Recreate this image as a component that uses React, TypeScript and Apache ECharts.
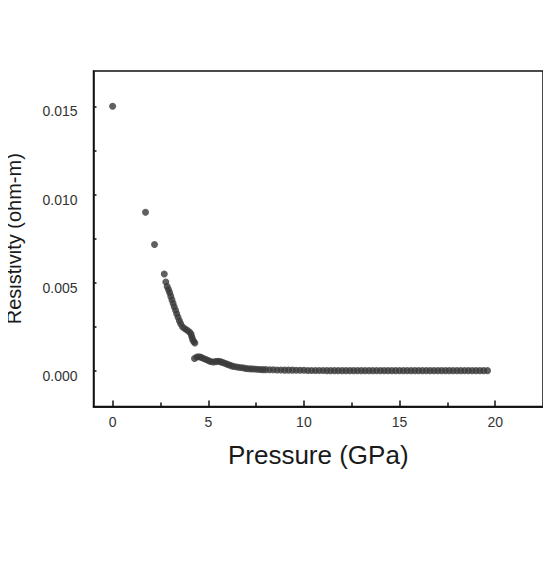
import React, { useEffect, useRef } from "react";
import * as echarts from "echarts";

const pressure: number[] = [
  0, 1.72, 2.19, 2.7, 2.78, 2.85, 2.92, 2.98, 3.04, 3.1, 3.16, 3.22, 3.29, 3.35, 3.42, 3.49, 3.56, 3.66, 3.78,
  3.9, 4.02, 4.1, 4.14, 4.18, 4.24, 4.3, 4.28, 4.4, 4.52, 4.64, 4.76, 4.88, 5.0, 5.12, 5.25, 5.38, 5.5, 5.62,
  5.74, 5.86, 5.98, 6.1, 6.22, 6.35, 6.5, 6.65, 6.8, 6.95, 7.1, 7.25, 7.4, 7.55, 7.7, 7.85, 8.0, 8.2, 8.4, 8.6,
  8.8, 9.0, 9.2, 9.4, 9.6, 9.8, 10.0, 10.2, 10.4, 10.6, 10.8, 11.0, 11.2, 11.4, 11.6, 11.8, 12.0, 12.2, 12.4,
  12.6, 12.8, 13.0, 13.2, 13.4, 13.6, 13.8, 14.0, 14.2, 14.4, 14.6, 14.8, 15.0, 15.2, 15.4, 15.6, 15.8, 16.0,
  16.2, 16.4, 16.6, 16.8, 17.0, 17.2, 17.4, 17.6, 17.8, 18.0, 18.2, 18.4, 18.6, 18.8, 19.0, 19.2, 19.4, 19.6,
];

const resistivity: number[] = [
  0.015, 0.009, 0.00717, 0.0055, 0.00505, 0.0048, 0.00462, 0.00445, 0.00425, 0.00405, 0.00385, 0.00365,
  0.00345, 0.00325, 0.00305, 0.00285, 0.00268, 0.0025, 0.0024, 0.00232, 0.00222, 0.0021, 0.00195, 0.0018,
  0.00168, 0.0016, 0.00072, 0.0008, 0.00082, 0.00078, 0.00072, 0.00066, 0.0006, 0.00055, 0.00052, 0.00054,
  0.00056, 0.00054, 0.0005, 0.00045, 0.0004, 0.00035, 0.0003, 0.00027, 0.00024, 0.00021, 0.00019, 0.00016,
  0.00014, 0.00013, 0.00012, 0.00011, 0.0001, 0.00009, 0.00009, 0.00008, 0.00008, 0.00007, 0.00007, 0.00006,
  0.00006, 0.00006, 0.00005, 0.00005, 0.00005, 0.00004, 0.00004, 0.00004, 0.00004, 0.00004, 0.00003, 0.00003,
  0.00003, 0.00003, 0.00003, 0.00003, 0.00003, 0.00003, 0.00003, 0.00003, 0.00003, 0.00003, 0.00003, 0.00003,
  0.00003, 0.00003, 0.00003, 0.00003, 0.00003, 0.00003, 0.00003, 0.00003, 0.00003, 0.00003, 0.00003, 0.00003,
  0.00003, 0.00003, 0.00003, 0.00003, 0.00003, 0.00003, 0.00003, 0.00003, 0.00003, 0.00003, 0.00003, 0.00003,
  0.00003, 0.00003, 0.00003, 0.00003, 0.00003,
];

const xLabelTicks: number[] = [0, 5, 10, 15, 20];
const xMinorTicks: number[] = [2.5, 7.5, 12.5, 17.5];
const yLabelTicks: number[] = [0, 0.005, 0.01, 0.015];
const yAllTicks: number[] = [0, 0.0025, 0.005, 0.0075, 0.01, 0.0125, 0.015];

const FONT = "'Liberation Sans', Arial, sans-serif";

export default function App() {
  const ref = useRef<HTMLDivElement>(null);
  useEffect(() => {
    if (!ref.current) return;
    const chart = echarts.init(ref.current, null, { renderer: "svg" });
    const data = pressure.map((p, i) => [p, resistivity[i]]);
    const xCommon = {
      type: "value" as const,
      min: -1,
      max: 22.5,
      splitLine: { show: false },
      axisLine: { show: true, onZero: false, lineStyle: { color: "#111", width: 1.5 } },
    };
    chart.setOption({
      animation: false,
      backgroundColor: "#fff",
      grid: {
        left: 93.5,
        top: 71,
        right: 8,
        bottom: 172.5,
        show: true,
        borderColor: "#111",
        borderWidth: 1.5,
        backgroundColor: "transparent",
        containLabel: false,
        outerBoundsMode: "none",
      },
      xAxis: [
        {
          ...xCommon,
          name: "Pressure (GPa)",
          nameLocation: "middle",
          nameGap: 35,
          nameTextStyle: { fontFamily: FONT, fontSize: 26, color: "#1a1a1a" },
          axisTick: { show: true, inside: true, length: 6, customValues: xLabelTicks, lineStyle: { color: "#111", width: 1.5 } },
          axisLabel: { show: true, customValues: xLabelTicks, margin: 8, fontFamily: FONT, fontSize: 14, color: "#333" },
        },
        {
          ...xCommon,
          position: "bottom",
          axisTick: { show: true, inside: true, length: 4, customValues: xMinorTicks, lineStyle: { color: "#111", width: 1.5 } },
          axisLabel: { show: false },
        },
      ],
      yAxis: {
        type: "value",
        min: -0.002,
        max: 0.017,
        splitLine: { show: false },
        name: "Resistivity (ohm-m)",
        nameLocation: "middle",
        nameGap: 70,
        nameTextStyle: { fontFamily: FONT, fontSize: 20, color: "#1a1a1a" },
        axisLine: { show: true, onZero: false, lineStyle: { color: "#111", width: 1.5 } },
        axisTick: { show: true, inside: true, length: 3, customValues: yAllTicks, lineStyle: { color: "#111", width: 1.5 } },
        axisLabel: {
          show: true,
          customValues: yLabelTicks,
          margin: 16,
          fontFamily: FONT,
          fontSize: 14,
          color: "#333",
          verticalAlign: "top",
          lineHeight: 10,
          formatter: (v: number) => v.toFixed(3),
        },
      },
      series: [
        {
          type: "scatter",
          data,
          symbol: "circle",
          symbolSize: 7,
          itemStyle: { color: "#383838" },
          xAxisIndex: 0,
        },
      ],
    });
    return () => chart.dispose();
  }, []);
  return <div ref={ref} style={{ width: 551, height: 579, margin: -8 }} />;
}
